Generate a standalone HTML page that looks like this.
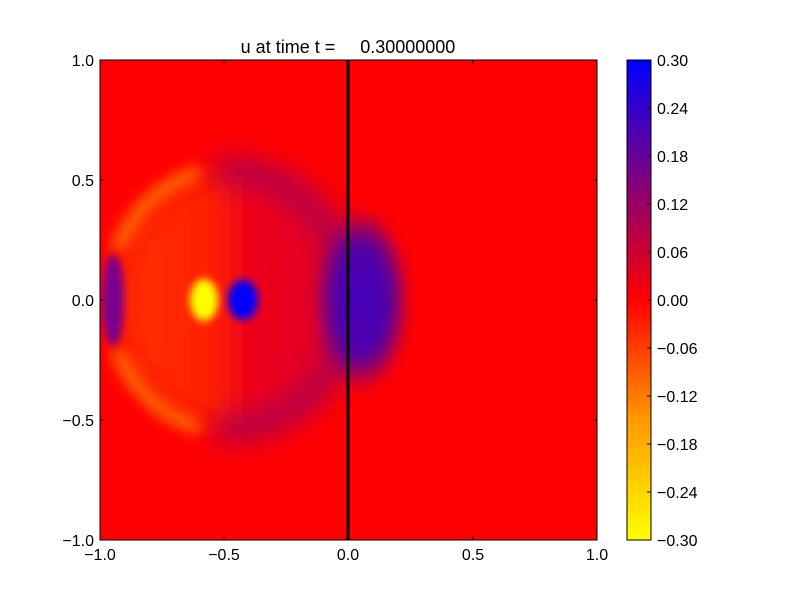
<!DOCTYPE html>
<html><head><style>
body{margin:0;background:#fff;}
svg text{font-family:"Liberation Sans",sans-serif;font-size:16px;fill:#000;}
</style></head><body>
<svg width="800" height="600" xmlns="http://www.w3.org/2000/svg">
<defs>
<filter id="b6" x="-50%" y="-50%" width="200%" height="200%"><feGaussianBlur stdDeviation="7"/></filter>
<filter id="b14" x="-50%" y="-50%" width="200%" height="200%"><feGaussianBlur stdDeviation="14"/></filter>
<filter id="b4" x="-50%" y="-50%" width="200%" height="200%"><feGaussianBlur stdDeviation="4"/></filter>
<clipPath id="plot"><rect x="100" y="60" width="497" height="480"/></clipPath>
<clipPath id="arcs"><rect x="0" y="0" width="200" height="250"/><rect x="0" y="350" width="200" height="300"/></clipPath>
<clipPath id="rightH"><rect x="215" y="0" width="400" height="600"/></clipPath>
<linearGradient id="tint" x1="0" y1="0" x2="1" y2="0">
<stop offset="0" stop-color="#ff3000"/>
<stop offset="0.45" stop-color="#ff2000"/>
<stop offset="0.55" stop-color="#f00018"/>
<stop offset="1" stop-color="#e0002a"/>
</linearGradient>
<radialGradient id="blob" cx="0.5" cy="0.5" r="0.5">
<stop offset="0" stop-color="#4400bb"/>
<stop offset="0.6" stop-color="#5000a8"/>
<stop offset="1" stop-color="#5000a8" stop-opacity="0"/>
</radialGradient>
<linearGradient id="cb" x1="0" y1="1" x2="0" y2="0">
<stop offset="0" stop-color="#ffff00"/>
<stop offset="0.25" stop-color="#ff9900"/>
<stop offset="0.5" stop-color="#ff0000"/>
<stop offset="0.75" stop-color="#80007f"/>
<stop offset="1" stop-color="#0000ff"/>
</linearGradient>
</defs>
<g clip-path="url(#plot)">
<rect x="100" y="60" width="497" height="480" fill="#ff0000"/>
<ellipse cx="228" cy="300" rx="112" ry="125" fill="url(#tint)" filter="url(#b14)"/>
<g filter="url(#b6)">
<g clip-path="url(#arcs)">
<ellipse cx="232" cy="300" rx="124" ry="132" fill="none" stroke="#ff6a00" stroke-width="14"/>
</g>
</g>
<g filter="url(#b14)">
<g clip-path="url(#rightH)">
<ellipse cx="226" cy="300" rx="124" ry="130" fill="none" stroke="#a00060" stroke-width="22"/>
</g>
</g>
<ellipse cx="362" cy="300" rx="48" ry="92" fill="url(#blob)" filter="url(#b6)"/>
<ellipse cx="113" cy="300" rx="11" ry="46" fill="#7a0090" filter="url(#b4)"/>
<ellipse cx="204" cy="300" rx="14" ry="21" fill="#ffff00" filter="url(#b4)"/>
<ellipse cx="243" cy="300" rx="15" ry="20" fill="#0000ff" filter="url(#b4)"/>
<rect x="346.5" y="60" width="3" height="480" fill="#000"/>
</g>
<rect x="100" y="60" width="497" height="480" fill="none" stroke="#000" stroke-width="1"/>
<g stroke="#000">
<line x1="100" y1="180" x2="104" y2="180"/><line x1="100" y1="300" x2="104" y2="300"/><line x1="100" y1="420" x2="104" y2="420"/>
<line x1="597" y1="180" x2="593" y2="180"/><line x1="597" y1="300" x2="593" y2="300"/><line x1="597" y1="420" x2="593" y2="420"/>
<line x1="224" y1="540" x2="224" y2="536"/><line x1="473" y1="540" x2="473" y2="536"/>
<line x1="224" y1="60" x2="224" y2="64"/><line x1="473" y1="60" x2="473" y2="64"/>
</g>
<g text-anchor="end">
<text x="94" y="66">1.0</text><text x="94" y="186">0.5</text><text x="94" y="306">0.0</text><text x="94" y="426">−0.5</text><text x="94" y="546">−1.0</text>
</g>
<g text-anchor="middle">
<text x="100" y="560">−1.0</text><text x="224" y="560">−0.5</text><text x="348" y="560">0.0</text><text x="473" y="560">0.5</text><text x="597" y="560">1.0</text>
<text x="348" y="53" style="font-size:18px;white-space:pre" xml:space="preserve">u at time t =     0.30000000</text>
</g>
<rect x="627" y="60" width="24" height="480" fill="url(#cb)" stroke="#000"/>
<g stroke="#000">
<line x1="647" y1="108" x2="651" y2="108"/><line x1="647" y1="156" x2="651" y2="156"/><line x1="647" y1="204" x2="651" y2="204"/><line x1="647" y1="252" x2="651" y2="252"/><line x1="647" y1="300" x2="651" y2="300"/><line x1="647" y1="348" x2="651" y2="348"/><line x1="647" y1="396" x2="651" y2="396"/><line x1="647" y1="444" x2="651" y2="444"/><line x1="647" y1="492" x2="651" y2="492"/>
</g>
<g>
<text x="657" y="66">0.30</text><text x="657" y="114">0.24</text><text x="657" y="162">0.18</text><text x="657" y="210">0.12</text><text x="657" y="258">0.06</text><text x="657" y="306">0.00</text><text x="657" y="354">−0.06</text><text x="657" y="402">−0.12</text><text x="657" y="450">−0.18</text><text x="657" y="498">−0.24</text><text x="657" y="546">−0.30</text>
</g>
</svg>
</body></html>
